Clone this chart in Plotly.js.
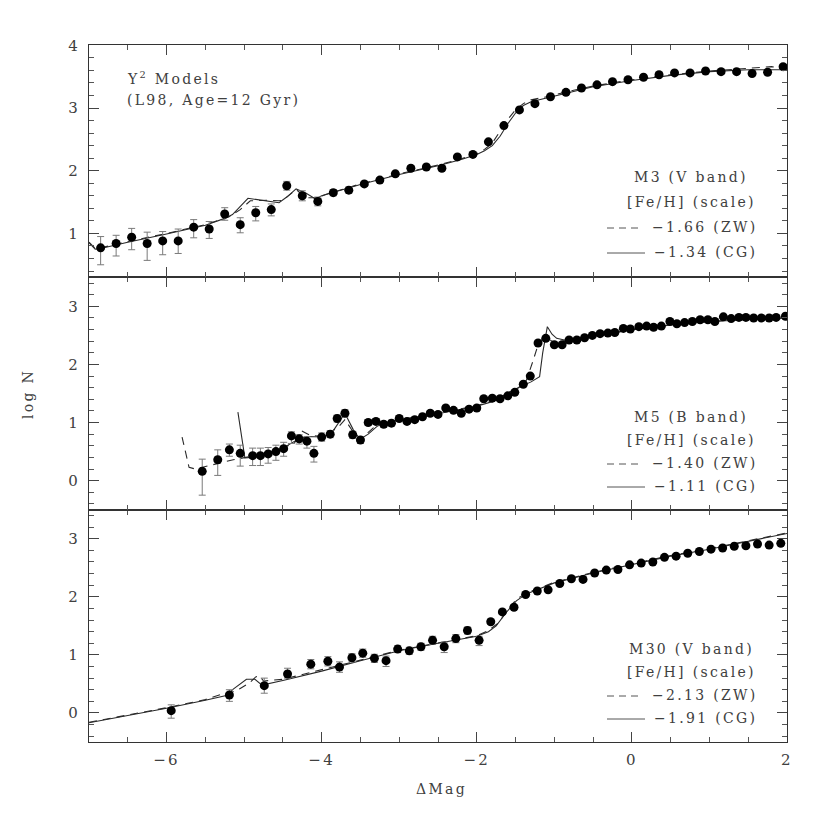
<!DOCTYPE html>
<html>
<head>
<meta charset="utf-8">
<script src="https://cdn.plot.ly/plotly-3.0.1.min.js"></script>
<style>
html,body{margin:0;padding:0;background:#fff;}
#chart{width:830px;height:830px;}
svg text{letter-spacing:2.3px;}
</style>
</head>
<body>
<div id="chart"></div>
<script>
// ---------- Panel 1: M3 (V band) ----------
const m3X = [-6.85,-6.65,-6.45,-6.25,-6.05,-5.85,-5.65,-5.45,-5.25,-5.05,-4.85,-4.65,-4.45,-4.25,-4.05,-3.85,-3.65,-3.45,-3.25,-3.05,-2.85,-2.65,-2.45,-2.25,-2.05,-1.85,-1.65,-1.45,-1.25,-1.05,-0.85,-0.65,-0.45,-0.25,-0.05,0.15,0.35,0.55,0.75,0.95,1.15,1.35,1.55,1.75,1.95];
const m3Y = [0.77,0.84,0.94,0.84,0.88,0.88,1.10,1.07,1.31,1.14,1.33,1.38,1.76,1.60,1.51,1.65,1.69,1.79,1.85,1.95,2.04,2.06,2.04,2.22,2.26,2.46,2.72,2.97,3.07,3.18,3.25,3.32,3.37,3.42,3.45,3.49,3.53,3.56,3.56,3.59,3.58,3.58,3.55,3.57,3.66];
const m3ErrPlus = [0.18,0.13,0.14,0.18,0.15,0.19,0.12,0.12,0.10,0.11,0.10,0.09,0.07,0.08,0.07,0.05,0.05,0.04,0.04,0.04,0.04,0.04,0.04,0.03,0.03,0.03,0.03,0.03,0.03,0.03,0.03,0.03,0.03,0.03,0.03,0.03,0.03,0.03,0.03,0.03,0.03,0.03,0.03,0.03,0.03];
const m3ErrMinus = [0.27,0.20,0.20,0.27,0.22,0.20,0.17,0.15,0.10,0.13,0.13,0.10,0.07,0.08,0.07,0.05,0.05,0.04,0.04,0.04,0.04,0.04,0.04,0.03,0.03,0.03,0.03,0.03,0.03,0.03,0.03,0.03,0.03,0.03,0.03,0.03,0.03,0.03,0.03,0.03,0.03,0.03,0.03,0.03,0.03];
const m3CgX = [-7.0,-6.92,-6.85,-6.5,-6.0,-5.5,-5.25,-5.15,-4.95,-4.9,-4.7,-4.55,-4.45,-4.33,-4.2,-4.08,-4.0,-3.5,-3.0,-2.5,-2.2,-2.0,-1.9,-1.8,-1.7,-1.6,-1.5,-1.4,-1.3,-1.1,-0.8,-0.5,0.0,0.5,1.0,1.5,2.0];
const m3CgY = [0.85,0.75,0.76,0.86,0.99,1.13,1.24,1.30,1.56,1.55,1.51,1.49,1.58,1.71,1.64,1.55,1.60,1.78,1.94,2.08,2.18,2.26,2.32,2.40,2.55,2.75,2.92,3.04,3.10,3.16,3.25,3.34,3.44,3.52,3.58,3.61,3.61];
const m3ZwX = [-7.0,-6.92,-6.85,-6.5,-6.0,-5.5,-5.2,-5.05,-4.92,-4.7,-4.55,-4.5,-4.33,-4.2,-4.05,-3.95,-3.5,-3.0,-2.5,-2.2,-2.0,-1.9,-1.8,-1.7,-1.6,-1.5,-1.4,-1.3,-1.1,-0.8,-0.5,0.0,0.5,1.0,1.5,1.8,2.0];
const m3ZwY = [0.86,0.76,0.77,0.87,1.00,1.14,1.26,1.38,1.52,1.53,1.52,1.53,1.70,1.57,1.57,1.62,1.79,1.95,2.09,2.19,2.27,2.34,2.44,2.62,2.82,2.97,3.07,3.13,3.18,3.27,3.35,3.45,3.53,3.59,3.63,3.66,3.62];

// ---------- Panel 2: M5 (B band) ----------
const m5X = [-5.54,-5.34,-5.19,-5.05,-4.89,-4.79,-4.69,-4.59,-4.49,-4.39,-4.29,-4.19,-4.10,-4.00,-3.89,-3.80,-3.70,-3.60,-3.50,-3.40,-3.30,-3.20,-3.10,-3.00,-2.90,-2.80,-2.70,-2.60,-2.50,-2.40,-2.30,-2.20,-2.10,-2.00,-1.91,-1.80,-1.70,-1.60,-1.51,-1.40,-1.31,-1.21,-1.11,-1.00,-0.90,-0.81,-0.71,-0.61,-0.51,-0.41,-0.31,-0.22,-0.11,-0.02,0.09,0.19,0.28,0.38,0.49,0.58,0.68,0.78,0.88,0.98,1.07,1.18,1.28,1.38,1.47,1.57,1.67,1.77,1.86,1.98];
const m5Y = [0.16,0.36,0.53,0.47,0.43,0.43,0.46,0.50,0.55,0.77,0.72,0.68,0.47,0.75,0.80,1.07,1.16,0.79,0.70,1.00,1.02,0.97,0.99,1.07,1.02,1.05,1.10,1.16,1.14,1.25,1.21,1.16,1.23,1.25,1.41,1.42,1.41,1.46,1.52,1.66,1.80,2.37,2.45,2.34,2.34,2.42,2.42,2.46,2.50,2.53,2.54,2.55,2.62,2.61,2.65,2.66,2.64,2.66,2.74,2.70,2.72,2.74,2.77,2.77,2.74,2.82,2.79,2.81,2.81,2.80,2.80,2.80,2.81,2.83];
const m5ErrPlus = [0.21,0.17,0.10,0.14,0.13,0.13,0.11,0.11,0.11,0.07,0.07,0.08,0.12,0.07,0.06,0.06,0.06,0.06,0.06,0.05,0.05,0.05,0.05,0.04,0.04,0.04,0.04,0.04,0.04,0.04,0.04,0.04,0.04,0.04,0.03,0.03,0.03,0.03,0.03,0.03,0.03,0.03,0.03,0.03,0.03,0.03,0.03,0.03,0.03,0.03,0.03,0.03,0.03,0.03,0.03,0.03,0.03,0.03,0.03,0.03,0.03,0.03,0.03,0.03,0.03,0.03,0.03,0.03,0.03,0.03,0.03,0.03,0.03,0.03];
const m5ErrMinus = [0.41,0.27,0.11,0.22,0.17,0.17,0.16,0.15,0.13,0.13,0.09,0.12,0.15,0.07,0.06,0.06,0.06,0.06,0.06,0.05,0.05,0.05,0.05,0.04,0.04,0.04,0.04,0.04,0.04,0.04,0.04,0.04,0.04,0.04,0.03,0.03,0.03,0.03,0.03,0.03,0.03,0.03,0.03,0.03,0.03,0.03,0.03,0.03,0.03,0.03,0.03,0.03,0.03,0.03,0.03,0.03,0.03,0.03,0.03,0.03,0.03,0.03,0.03,0.03,0.03,0.03,0.03,0.03,0.03,0.03,0.03,0.03,0.03,0.03];
const m5CgX = [-5.08,-4.99,-4.9,-4.7,-4.5,-4.32,-4.19,-4.0,-3.88,-3.7,-3.59,-3.51,-3.4,-3.29,-3.2,-3.0,-2.5,-2.0,-1.8,-1.53,-1.3,-1.19,-1.15,-1.09,-1.03,-0.97,-0.87,-0.5,0.0,0.5,1.0,1.5,2.0];
const m5CgY = [1.18,0.39,0.40,0.47,0.56,0.70,0.76,0.75,0.80,1.16,0.87,0.71,0.80,0.93,0.99,1.04,1.15,1.28,1.36,1.56,1.70,1.79,2.20,2.65,2.52,2.45,2.42,2.49,2.60,2.68,2.74,2.77,2.80];
const m5ZwX = [-5.80,-5.71,-5.63,-5.4,-5.14,-4.9,-4.7,-4.5,-4.35,-4.25,-4.15,-4.0,-3.9,-3.78,-3.7,-3.6,-3.5,-3.4,-3.3,-3.2,-3.0,-2.5,-2.0,-1.8,-1.6,-1.5,-1.36,-1.27,-1.2,-1.12,-1.0,-0.9,-0.5,0.0,0.5,1.0,1.5,2.0];
const m5ZwY = [0.75,0.23,0.20,0.28,0.36,0.42,0.47,0.56,0.65,0.85,0.78,0.76,0.82,0.93,1.05,0.85,0.72,0.83,0.95,1.00,1.05,1.16,1.29,1.37,1.46,1.55,1.73,2.08,2.38,2.47,2.38,2.40,2.48,2.60,2.68,2.74,2.78,2.81];

// ---------- Panel 3: M30 (V band) ----------
const m30X = [-5.94,-5.19,-4.74,-4.44,-4.14,-3.92,-3.77,-3.61,-3.47,-3.32,-3.17,-3.02,-2.87,-2.72,-2.57,-2.42,-2.27,-2.12,-1.97,-1.82,-1.67,-1.52,-1.37,-1.22,-1.08,-0.93,-0.78,-0.63,-0.48,-0.33,-0.18,-0.03,0.12,0.27,0.42,0.57,0.72,0.87,1.02,1.17,1.32,1.47,1.62,1.77,1.92];
const m30Y = [0.04,0.31,0.47,0.67,0.84,0.89,0.79,0.95,1.03,0.94,0.90,1.10,1.07,1.14,1.25,1.14,1.28,1.42,1.25,1.57,1.74,1.82,2.04,2.10,2.12,2.23,2.31,2.30,2.41,2.46,2.47,2.55,2.58,2.60,2.68,2.70,2.75,2.78,2.82,2.84,2.87,2.88,2.91,2.89,2.92];
const m30ErrPlus = [0.10,0.09,0.13,0.10,0.08,0.08,0.09,0.07,0.07,0.07,0.08,0.06,0.06,0.06,0.07,0.08,0.07,0.06,0.07,0.04,0.04,0.04,0.03,0.03,0.03,0.03,0.03,0.03,0.03,0.03,0.03,0.03,0.03,0.03,0.03,0.03,0.03,0.03,0.03,0.03,0.03,0.03,0.03,0.03,0.03];
const m30ErrMinus = [0.13,0.11,0.13,0.07,0.08,0.08,0.09,0.07,0.07,0.07,0.10,0.06,0.06,0.06,0.07,0.10,0.07,0.06,0.09,0.04,0.04,0.04,0.03,0.03,0.03,0.03,0.03,0.03,0.03,0.03,0.03,0.03,0.03,0.03,0.03,0.03,0.03,0.03,0.03,0.03,0.03,0.03,0.03,0.03,0.03];
const m30CgX = [-7.0,-6.5,-6.0,-5.5,-5.23,-5.14,-4.97,-4.86,-4.77,-4.5,-4.0,-3.5,-3.0,-2.5,-2.0,-1.85,-1.75,-1.62,-1.49,-1.36,-1.2,-1.0,-0.5,0.0,0.5,1.0,1.5,2.0];
const m30CgY = [-0.17,-0.05,0.08,0.22,0.30,0.41,0.58,0.58,0.48,0.56,0.72,0.90,1.07,1.20,1.32,1.40,1.50,1.73,1.93,2.05,2.14,2.24,2.41,2.56,2.70,2.82,2.96,3.09];
const m30ZwX = [-7.0,-6.5,-6.0,-5.5,-5.3,-5.15,-5.05,-4.93,-4.85,-4.8,-4.75,-4.5,-4.0,-3.5,-3.0,-2.5,-2.0,-1.85,-1.72,-1.6,-1.48,-1.35,-1.2,-1.0,-0.5,0.0,0.5,1.0,1.5,2.0];
const m30ZwY = [-0.16,-0.04,0.09,0.23,0.32,0.36,0.42,0.52,0.62,0.64,0.55,0.58,0.74,0.91,1.08,1.21,1.33,1.42,1.55,1.78,1.97,2.07,2.15,2.25,2.42,2.57,2.71,2.83,2.97,3.10];

// ---------- Texts ----------
const panelLabels = [
  ["M3 (V band)", "[Fe/H] (scale)", "\u22121.66 (ZW)", "\u22121.34 (CG)"],
  ["M5 (B band)", "[Fe/H] (scale)", "\u22121.40 (ZW)", "\u22121.11 (CG)"],
  ["M30 (V band)", "[Fe/H] (scale)", "\u22122.13 (ZW)", "\u22121.91 (CG)"]
];
const modelNote = ["Y<sup>2</sup> Models", "(L98, Age=12 Gyr)"];
const xTitle = "\u0394Mag";
const yTitle = "log N";

// ---------- Styles ----------
const FONT = "DejaVu Serif, serif";
const FS = 14;
const TXT = "#404040";
const LINEC = "#2a2a2a";
const DASH = "8px,6px";

function dataTrace(x, y, ep, em, ya) {
  return {
    x: x, y: y, xaxis: ya.replace('y', 'x'), yaxis: ya, type: 'scatter', mode: 'markers',
    marker: {color: '#000', size: 9},
    error_y: {type: 'data', symmetric: false, array: ep, arrayminus: em, color: '#7a7a7a', thickness: 1, width: 3.5},
    hoverinfo: 'x+y', showlegend: false
  };
}
function lineTrace(x, y, ya, dash) {
  return {
    x: x, y: y, xaxis: ya.replace('y', 'x'), yaxis: ya, type: 'scatter', mode: 'lines',
    line: {color: LINEC, width: 1.1, dash: dash},
    hoverinfo: 'skip', showlegend: false
  };
}

const traces = [
  lineTrace(m3ZwX, m3ZwY, 'y3', DASH), lineTrace(m3CgX, m3CgY, 'y3', 'solid'),
  dataTrace(m3X, m3Y, m3ErrPlus, m3ErrMinus, 'y3'),
  lineTrace(m5ZwX, m5ZwY, 'y2', DASH), lineTrace(m5CgX, m5CgY, 'y2', 'solid'),
  dataTrace(m5X, m5Y, m5ErrPlus, m5ErrMinus, 'y2'),
  lineTrace(m30ZwX, m30ZwY, 'y', DASH), lineTrace(m30CgX, m30CgY, 'y', 'solid'),
  dataTrace(m30X, m30Y, m30ErrPlus, m30ErrMinus, 'y')
];

const tickFont = {family: FONT, size: 15, color: TXT};
function xAxis(anchor, labels) {
  return {
    anchor: anchor, range: [-7, 2], dtick: 2, tick0: 0, ticks: 'inside', ticklen: 10, tickwidth: 1, tickcolor: '#444',
    minor: {dtick: 0.5, tick0: 0, ticks: 'inside', ticklen: 5, tickwidth: 1, tickcolor: '#555', showgrid: false},
    showline: true, linecolor: '#333', linewidth: 1, mirror: 'allticks', showgrid: false, zeroline: false,
    showticklabels: labels, tickfont: tickFont, ticklabelstandoff: 4, fixedrange: true
  };
}
function yAxis(domain, range) {
  return {
    domain: domain, range: range, dtick: 1, tick0: 0, ticks: 'inside', ticklen: 10, tickwidth: 1, tickcolor: '#444',
    minor: {dtick: 0.2, tick0: 0, ticks: 'inside', ticklen: 5, tickwidth: 1, tickcolor: '#555', showgrid: false},
    showline: true, linecolor: '#333', linewidth: 1, mirror: 'allticks', showgrid: false, zeroline: false,
    tickfont: tickFont, ticklabelstandoff: 5, fixedrange: true
  };
}

// paper-coordinate helpers for the 830x830 page (plot area 89..787 x 45..742)
const L = 89, R = 787, T = 45, B = 742;
const px = v => (v - L) / (R - L);
const py = v => (B - v) / (B - T);

const annotations = [];
const shapes = [];
const legendRows = [[177, 202, 227, 252], [417, 440, 463, 486], [649, 672, 695, 718]];
panelLabels.forEach((lab, i) => {
  const rows = legendRows[i];
  annotations.push({text: lab[0], x: px(691), y: py(rows[0]), xanchor: 'center', yanchor: 'middle'});
  annotations.push({text: lab[1], x: px(691), y: py(rows[1]), xanchor: 'center', yanchor: 'middle'});
  annotations.push({text: lab[2], x: px(759), y: py(rows[2]), xanchor: 'right', yanchor: 'middle'});
  annotations.push({text: lab[3], x: px(759), y: py(rows[3]), xanchor: 'right', yanchor: 'middle'});
  shapes.push({type: 'line', xref: 'paper', yref: 'paper', x0: px(607), x1: px(641), y0: py(rows[2] + 1), y1: py(rows[2] + 1),
               line: {color: '#555', width: 1, dash: '7px,5px'}});
  shapes.push({type: 'line', xref: 'paper', yref: 'paper', x0: px(607), x1: px(645), y0: py(rows[3] + 1), y1: py(rows[3] + 1),
               line: {color: '#555', width: 1}});
});
annotations.push({text: modelNote[0], x: px(125), y: py(78), xanchor: 'left', yanchor: 'middle'});
annotations.push({text: modelNote[1], x: px(125), y: py(100), xanchor: 'left', yanchor: 'middle'});
annotations.push({text: yTitle, x: px(28), y: py(394), xanchor: 'center', yanchor: 'middle', textangle: -90});
annotations.push({text: xTitle, x: px(441), y: py(789), xanchor: 'center', yanchor: 'middle'});
annotations.forEach(a => {
  a.xref = 'paper'; a.yref = 'paper'; a.showarrow = false;
  a.font = {family: FONT, size: FS, color: TXT};
});

const layout = {
  width: 830, height: 830,
  margin: {l: L, r: 830 - R, t: T, b: 830 - B, pad: 0},
  paper_bgcolor: '#fff', plot_bgcolor: '#fff',
  showlegend: false,
  xaxis: xAxis('y', true),
  xaxis2: Object.assign(xAxis('y2', false), {matches: 'x'}),
  xaxis3: Object.assign(xAxis('y3', false), {matches: 'x'}),
  yaxis: yAxis([0, 0.3333], [-0.5, 3.5]),
  yaxis2: yAxis([0.3333, 0.6667], [-0.5, 3.5]),
  yaxis3: yAxis([0.6667, 1], [0.3, 4.005]),
  annotations: annotations,
  shapes: shapes
};

Plotly.newPlot('chart', traces, layout, {displayModeBar: false, staticPlot: true});
</script>
</body>
</html>
